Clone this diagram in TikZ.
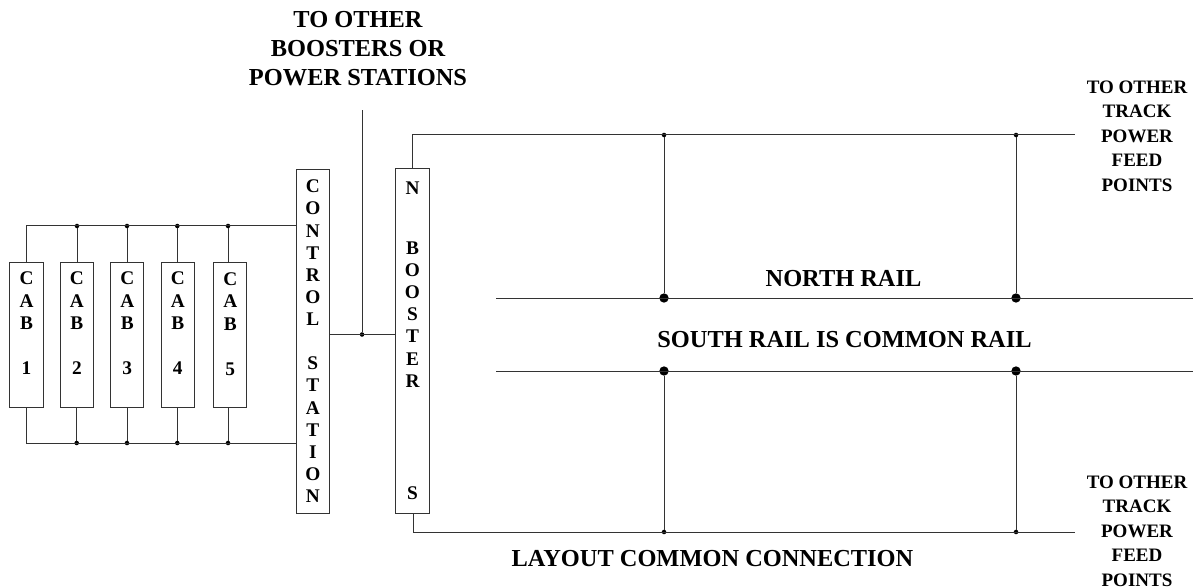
\documentclass[tikz,border=0pt]{standalone}
\usepackage{fontspec}
\setmainfont{Liberation Serif}
\tikzset{
  wire/.style={line width=0.75pt,draw=black!80},
  unitbox/.style={draw=black!80,line width=0.75pt,inner sep=0pt,outer sep=0pt,align=center,minimum width=24.9pt,font=\bfseries\fontsize{14.5}{16.9}\selectfont},
  cabbox/.style={unitbox,minimum height=108.7pt},
  smalldot/.style={circle,fill=black,inner sep=0pt,outer sep=0pt,minimum size=3.4pt},
  bigdot/.style={circle,fill=black,inner sep=0pt,outer sep=0pt,minimum size=7pt},
  biglabel/.style={align=center,inner sep=0pt,font=\bfseries\fontsize{18.3}{21.75}\selectfont},
  feedlabel/.style={align=center,inner sep=0pt,font=\bfseries\fontsize{14.25}{18.4}\selectfont}
}
\begin{document}
\begin{tikzpicture}[x=0.75pt,y=-0.75pt]
\useasboundingbox (0,0) rectangle (1193,588);
% boxes
\node[cabbox] (cab1) at (26.5,334.7) {C\\A\\B\\~\\1\\~};
\node[cabbox] (cab2) at (76.9,334.7) {C\\A\\B\\~\\2\\~};
\node[cabbox] (cab3) at (127.3,334.7) {C\\A\\B\\~\\3\\~};
\node[cabbox] (cab4) at (177.8,334.7) {C\\A\\B\\~\\4\\~};
\node[cabbox] (cab5) at (230.3,335.2) {C\\A\\B\\~\\5\\~};
\node[unitbox,minimum height=258pt,font=\bfseries\fontsize{14.5}{16.6}\selectfont] (ctl) at (312.8,341.3)
  {C\\O\\N\\T\\R\\O\\L\\~\\S\\T\\A\\T\\I\\O\\N};
\node[unitbox,minimum height=258.7pt,font=\bfseries\fontsize{14.5}{16.6}\selectfont] (boost) at (412.5,340.8)
  {N\\[28.4pt]B\\O\\O\\S\\T\\E\\R\\[67.8pt]S};
% junctions
\node[smalldot] (t2) at (77,226) {};
\node[smalldot] (t3) at (127,226) {};
\node[smalldot] (t4) at (177.3,226) {};
\node[smalldot] (t5) at (228,226) {};
\node[smalldot] (b2) at (76.7,443) {};
\node[smalldot] (b3) at (127,443) {};
\node[smalldot] (b4) at (177.3,443) {};
\node[smalldot] (b5) at (228,443) {};
\node[smalldot] (link) at (362,334.5) {};
\node[smalldot] (nt1) at (664,135) {};
\node[smalldot] (nt2) at (1016,135) {};
\node[smalldot] (st1) at (664,532) {};
\node[smalldot] (st2) at (1016,532) {};
\node[bigdot] (n1) at (664,298) {};
\node[bigdot] (n2) at (1016,298) {};
\node[bigdot] (s1) at (664,371) {};
\node[bigdot] (s2) at (1016,371) {};
% free ends
\coordinate (up) at (362,110);
\coordinate (nstart) at (412.5,135);
\coordinate (sstart) at (413,532);
\coordinate (nend) at (1075,135);
\coordinate (send) at (1075,532);
\coordinate (nl) at (496,298);
\coordinate (nr) at (1193,298);
\coordinate (sl) at (496,371);
\coordinate (sr) at (1193,371);
% connectors
\draw[wire] (cab1.north) |- (ctl.west |- t2);
\draw[wire] (cab1.south) |- (ctl.west |- b2);
\foreach \j/\c in {t2/cab2,t3/cab3,t4/cab4,t5/cab5}{\draw[wire] (\j) -- (\j |- \c.north);}
\foreach \j/\c in {b2/cab2,b3/cab3,b4/cab4,b5/cab5}{\draw[wire] (\j) -- (\j |- \c.south);}
\draw[wire] (ctl.east |- link) -- (boost.west |- link);
\draw[wire] (link) -- (up);
\draw[wire] (boost.north) -- (nstart) -- (nend);
\draw[wire] (sstart |- boost.south) -- (sstart) -- (send);
\draw[wire] (nl) -- (nr);
\draw[wire] (sl) -- (sr);
\draw[wire] (nt1) -- (n1);
\draw[wire] (nt2) -- (n2);
\draw[wire] (s1) -- (st1);
\draw[wire] (s2) -- (st2);
% labels
\node[biglabel] (lblup) at (358,49) {TO OTHER\\BOOSTERS OR\\POWER STATIONS};
\node[biglabel] (lbln) at (843.5,279) {NORTH RAIL};
\node[biglabel] (lbls) at (844.5,340) {SOUTH RAIL IS COMMON RAIL};
\node[biglabel] (lblc) at (712.5,559) {LAYOUT COMMON CONNECTION};
\node[feedlabel] (lblf1) at (1137,136) {TO OTHER\\TRACK\\POWER\\FEED\\POINTS};
\node[feedlabel] (lblf2) at (1137,531) {TO OTHER\\TRACK\\POWER\\FEED\\POINTS};
\end{tikzpicture}
\end{document}
